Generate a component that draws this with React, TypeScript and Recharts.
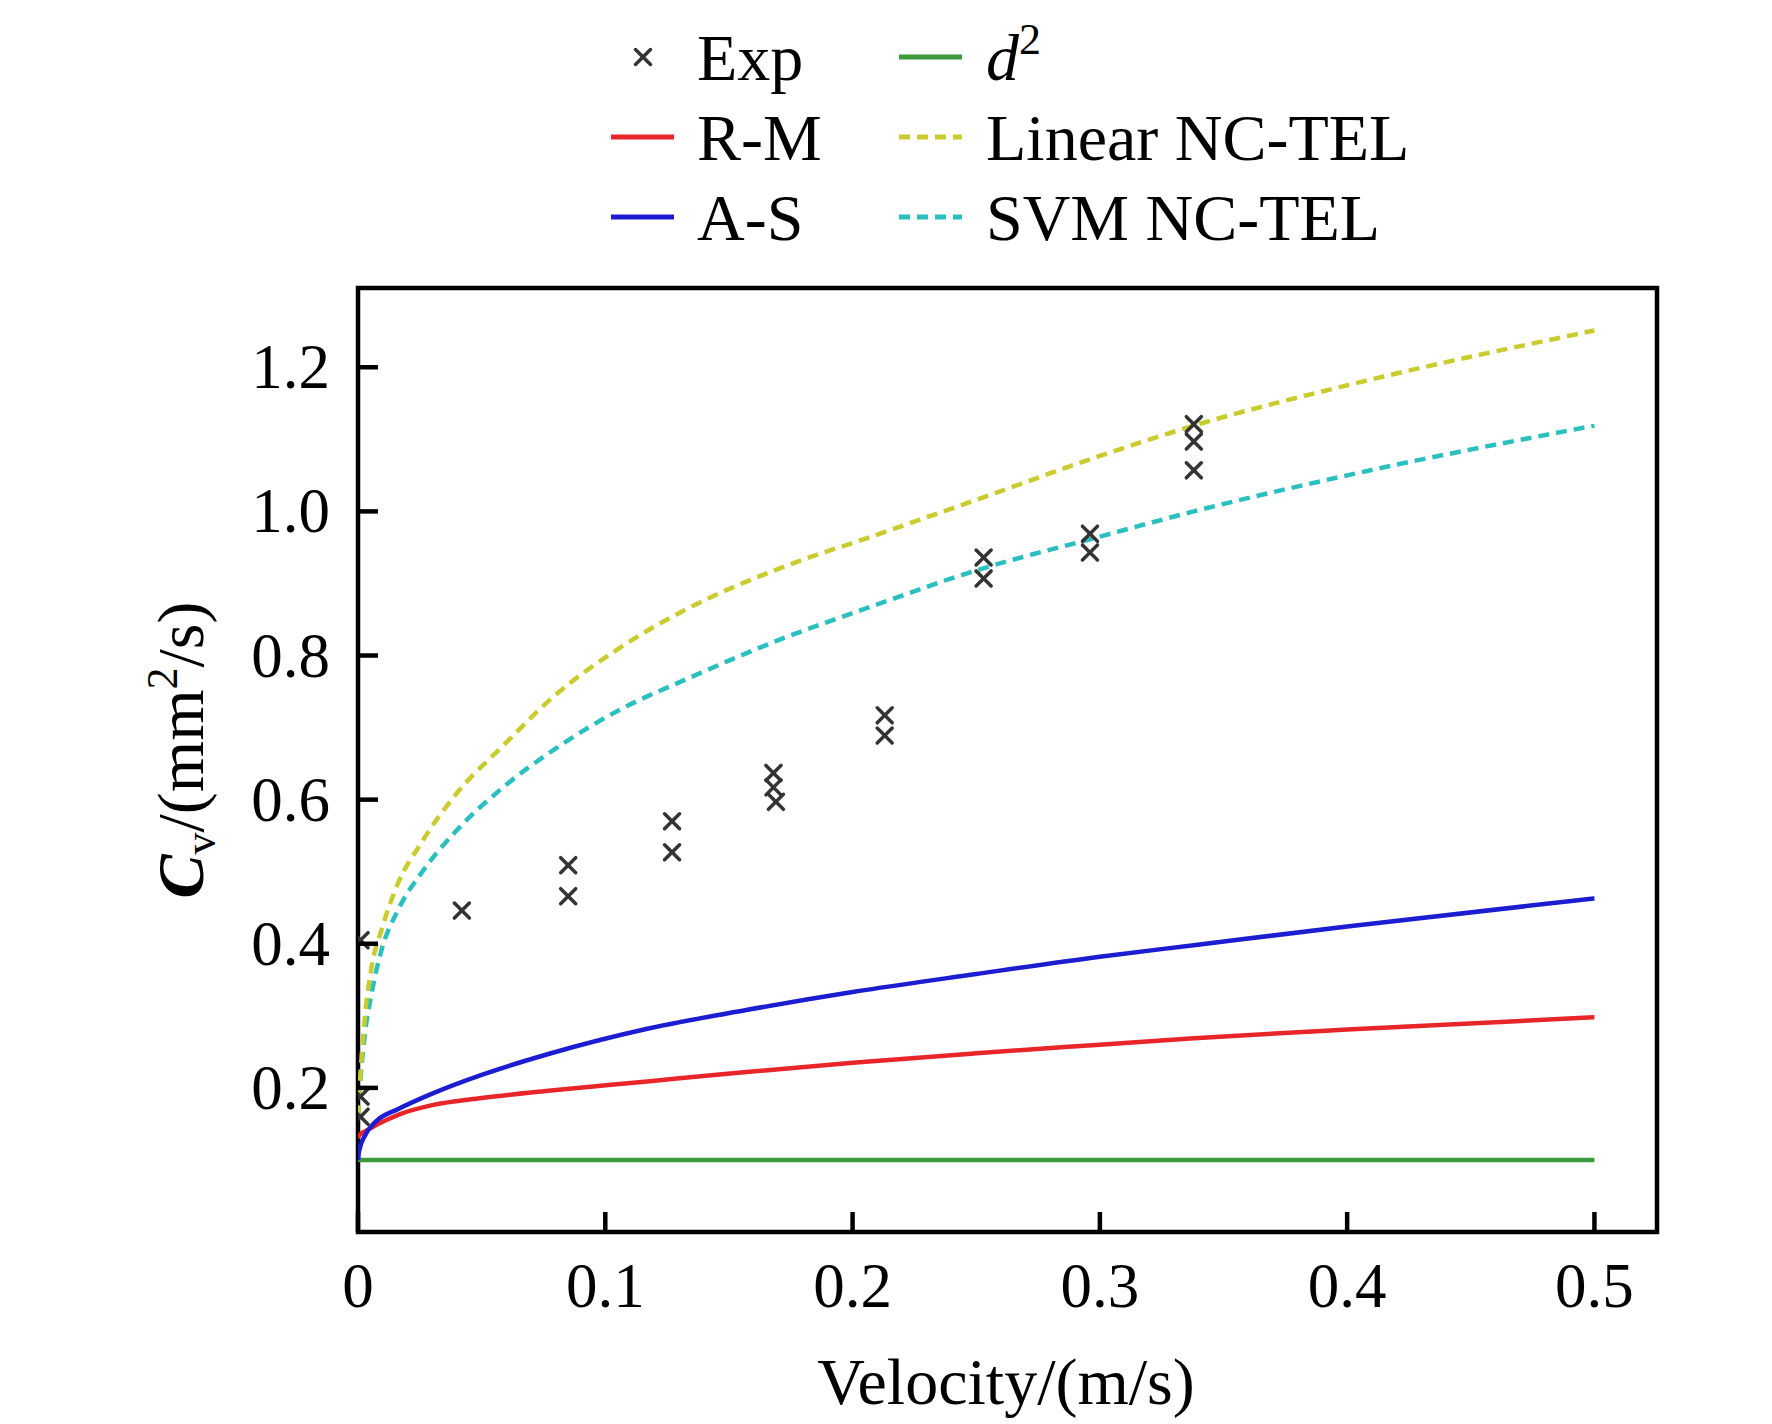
import React from 'react';
import {
  ComposedChart,
  Line,
  Scatter,
  XAxis,
  YAxis,
  ReferenceArea,
  Legend,
} from 'recharts';

// ---------- data ----------
// NC-TEL model curves
const nctelVelocity = [0, 0.0012, 0.0028, 0.0055, 0.0095, 0.0162, 0.0256, 0.039, 0.059, 0.0791, 0.106, 0.1327, 0.1728, 0.2076, 0.25, 0.3, 0.338, 0.4, 0.5];
const linearValues = [0.16, 0.23, 0.299, 0.368, 0.419, 0.484, 0.54, 0.605, 0.676, 0.743, 0.811, 0.864, 0.924, 0.965, 1.016, 1.077, 1.119, 1.175, 1.251];
const svmValues = [0.16, 0.22, 0.275, 0.331, 0.391, 0.447, 0.498, 0.554, 0.618, 0.669, 0.725, 0.767, 0.825, 0.868, 0.918, 0.965, 1.0, 1.05, 1.119];

// empirical correlations
const corrVelocity = [0, 0.0004, 0.003, 0.0071, 0.0165, 0.03, 0.05, 0.077, 0.117, 0.157, 0.2, 0.25, 0.3, 0.338, 0.4, 0.5];
const rmValues = [0.13, 0.134, 0.14, 0.148, 0.163, 0.176, 0.186, 0.196, 0.209, 0.222, 0.235, 0.248, 0.26, 0.269, 0.281, 0.298];
const asValues = [0.1, 0.112, 0.135, 0.153, 0.171, 0.192, 0.218, 0.247, 0.282, 0.308, 0.333, 0.358, 0.382, 0.398, 0.424, 0.463];

const d2Velocity = [0, 0.5];
const d2Values = [0.1, 0.1];

// experimental points
const expVelocity = [0.001, 0.001, 0.001, 0.042, 0.085, 0.085, 0.127, 0.127, 0.168, 0.168, 0.169, 0.213, 0.213, 0.253, 0.253, 0.296, 0.296, 0.338, 0.338, 0.338];
const expCv = [0.405, 0.188, 0.16, 0.446, 0.509, 0.466, 0.57, 0.527, 0.637, 0.617, 0.597, 0.717, 0.689, 0.936, 0.907, 0.969, 0.943, 1.121, 1.097, 1.057];

const xTicks = [0, 0.1, 0.2, 0.3, 0.4, 0.5];
const xTickLabels = ['0', '0.1', '0.2', '0.3', '0.4', '0.5'];
const yTicks = [0.2, 0.4, 0.6, 0.8, 1.0, 1.2];
const yTickLabels = ['0.2', '0.4', '0.6', '0.8', '1.0', '1.2'];

const X_DOMAIN: [number, number] = [0, 0.5253];
const Y_DOMAIN: [number, number] = [0, 1.31];

const zip = (xs: number[], ys: number[]) => xs.map((v, i) => ({ v, c: ys[i] }));
const rmData = zip(corrVelocity, rmValues);
const asData = zip(corrVelocity, asValues);
const d2Data = zip(d2Velocity, d2Values);
const linearData = zip(nctelVelocity, linearValues);
const svmData = zip(nctelVelocity, svmValues);
const expData = zip(expVelocity, expCv);

// ---------- styles ----------
const FONT = "'Liberation Serif', 'Times New Roman', serif";
const FS = 63;
const AFS = 66;
const COLORS: Record<string, string> = {
  rm: '#e8262a',
  as: '#1c1cd0',
  d2: '#3c9a3c',
  linear: '#c9cc2e',
  svm: '#2cbfbf',
  exp: '#333333',
};
const LW = 4.5;
const DASH = '11 7';

const XMark = (props: any) => {
  const { cx, cy } = props;
  if (cx == null || cy == null) return null;
  const s = 7.5;
  return (
    <g stroke={COLORS.exp} strokeWidth={3.5} strokeLinecap="round">
      <line x1={cx - s} y1={cy - s} x2={cx + s} y2={cy + s} />
      <line x1={cx - s} y1={cy + s} x2={cx + s} y2={cy - s} />
    </g>
  );
};

const YTick = (props: any) => {
  const { x, y, payload } = props;
  const i = yTicks.findIndex((t) => Math.abs(t - payload.value) < 1e-9);
  const label = i >= 0 ? yTickLabels[i] : String(payload.value);
  return (
    <g>
      <line x1={x} x2={x + 20} y1={y} y2={y} stroke="#000" strokeWidth={4.5} />
      <text x={x - 28} y={y + 21} textAnchor="end" fontFamily={FONT} fontSize={FS} fill="#000">
        {label}
      </text>
    </g>
  );
};

const XTick = (props: any) => {
  const { x, y, payload } = props;
  const i = xTicks.findIndex((t) => Math.abs(t - payload.value) < 1e-9);
  const label = i >= 0 ? xTickLabels[i] : String(payload.value);
  return (
    <g>
      <line x1={x} x2={x} y1={y} y2={y - 20} stroke="#000" strokeWidth={4.5} />
      <text x={x} y={y + 75} textAnchor="middle" fontFamily={FONT} fontSize={FS} fill="#000">
        {label}
      </text>
    </g>
  );
};

const XLabel = () => (
  <text x={1006} y={1404} textAnchor="middle" fontFamily={FONT} fontSize={AFS} fill="#000">
    Velocity/(m/s)
  </text>
);

const YLabel = () => (
  <text
    x={203}
    y={750}
    transform="rotate(-90 203 750)"
    textAnchor="middle"
    fontFamily={FONT}
    fontSize={AFS}
    fill="#000"
  >
    <tspan fontStyle="italic" fontWeight="bold">C</tspan>
    <tspan fontSize={44} dy={12}>v</tspan>
    <tspan dy={-12}>/(mm</tspan>
    <tspan fontSize={44} dy={-26}>2</tspan>
    <tspan dy={26}>/s)</tspan>
  </text>
);

const legendItems = [
  { key: 'exp', label: 'Exp', kind: 'mark', col: 0, row: 0 },
  { key: 'rm', label: 'R-M', kind: 'solid', col: 0, row: 1 },
  { key: 'as', label: 'A-S', kind: 'solid', col: 0, row: 2 },
  { key: 'd2', label: 'd2', kind: 'solid', col: 1, row: 0 },
  { key: 'linear', label: 'Linear NC-TEL', kind: 'dash', col: 1, row: 1 },
  { key: 'svm', label: 'SVM NC-TEL', kind: 'dash', col: 1, row: 2 },
];

const LegendContent = () => {
  const colLineX = [611, 899];
  const colTextX = [697, 986];
  const rowY = [57, 137, 217];
  const LFS = 66;
  return (
    <svg width={1772} height={280} style={{ display: 'block' }}>
      {legendItems.map((it) => {
        const lx = colLineX[it.col];
        const tx = colTextX[it.col];
        const y = rowY[it.row];
        const color = COLORS[it.key];
        return (
          <g key={it.key}>
            {it.kind === 'mark' && <XMark cx={lx + 32} cy={y} />}
            {it.kind === 'solid' && (
              <line x1={lx} x2={lx + 63} y1={y} y2={y} stroke={color} strokeWidth={5} />
            )}
            {it.kind === 'dash' && (
              <line x1={lx} x2={lx + 63} y1={y} y2={y} stroke={color} strokeWidth={5} strokeDasharray={DASH} />
            )}
            <text x={tx} y={y + 23} fontFamily={FONT} fontSize={LFS} fill="#000">
              {it.key === 'd2' ? (
                <>
                  <tspan fontStyle="italic">d</tspan>
                  <tspan fontSize={44} dy={-26}>2</tspan>
                </>
              ) : (
                it.label
              )}
            </text>
          </g>
        );
      })}
    </svg>
  );
};

export default function App() {
  return (
    <div style={{ position: 'absolute', left: 0, top: 0, width: 1772, height: 1424, background: '#fff' }}>
      <ComposedChart
        width={1772}
        height={1424}
        margin={{ top: 288, left: 0, right: 115, bottom: 0 }}
      >
        <XAxis
          dataKey="v"
          type="number"
          domain={X_DOMAIN}
          allowDataOverflow
          ticks={xTicks}
          interval={0}
          height={192}
          tickSize={0}
          tickMargin={0}
          tickLine={false}
          axisLine={false}
          tick={<XTick />}
          label={<XLabel />}
        />
        <YAxis
          dataKey="c"
          type="number"
          domain={Y_DOMAIN}
          allowDataOverflow
          ticks={yTicks}
          interval={0}
          width={358}
          tickSize={0}
          tickMargin={0}
          tickLine={false}
          axisLine={false}
          tick={<YTick />}
          label={<YLabel />}
        />
        <Line data={d2Data} dataKey="c" type="linear" stroke={COLORS.d2} strokeWidth={LW} dot={false} isAnimationActive={false} />
        <Line data={rmData} dataKey="c" type="monotone" stroke={COLORS.rm} strokeWidth={LW} dot={false} isAnimationActive={false} />
        <Line data={asData} dataKey="c" type="monotone" stroke={COLORS.as} strokeWidth={LW} dot={false} isAnimationActive={false} />
        <Line data={svmData} dataKey="c" type="monotone" stroke={COLORS.svm} strokeWidth={LW} strokeDasharray={DASH} dot={false} isAnimationActive={false} />
        <Line data={linearData} dataKey="c" type="monotone" stroke={COLORS.linear} strokeWidth={LW} strokeDasharray={DASH} dot={false} isAnimationActive={false} />
        <Scatter data={expData} dataKey="c" shape={<XMark />} isAnimationActive={false} />
        <ReferenceArea
          x1={X_DOMAIN[0]}
          x2={X_DOMAIN[1]}
          y1={Y_DOMAIN[0]}
          y2={Y_DOMAIN[1]}
          fill="none"
          fillOpacity={0}
          stroke="#000"
          strokeWidth={4.5}
          ifOverflow="visible"
        />
        <Legend
          layout="horizontal"
          verticalAlign="middle"
          align="center"
          wrapperStyle={{ top: 0, left: 0, width: 1772, height: 280 }}
          content={<LegendContent />}
        />
      </ComposedChart>
    </div>
  );
}
